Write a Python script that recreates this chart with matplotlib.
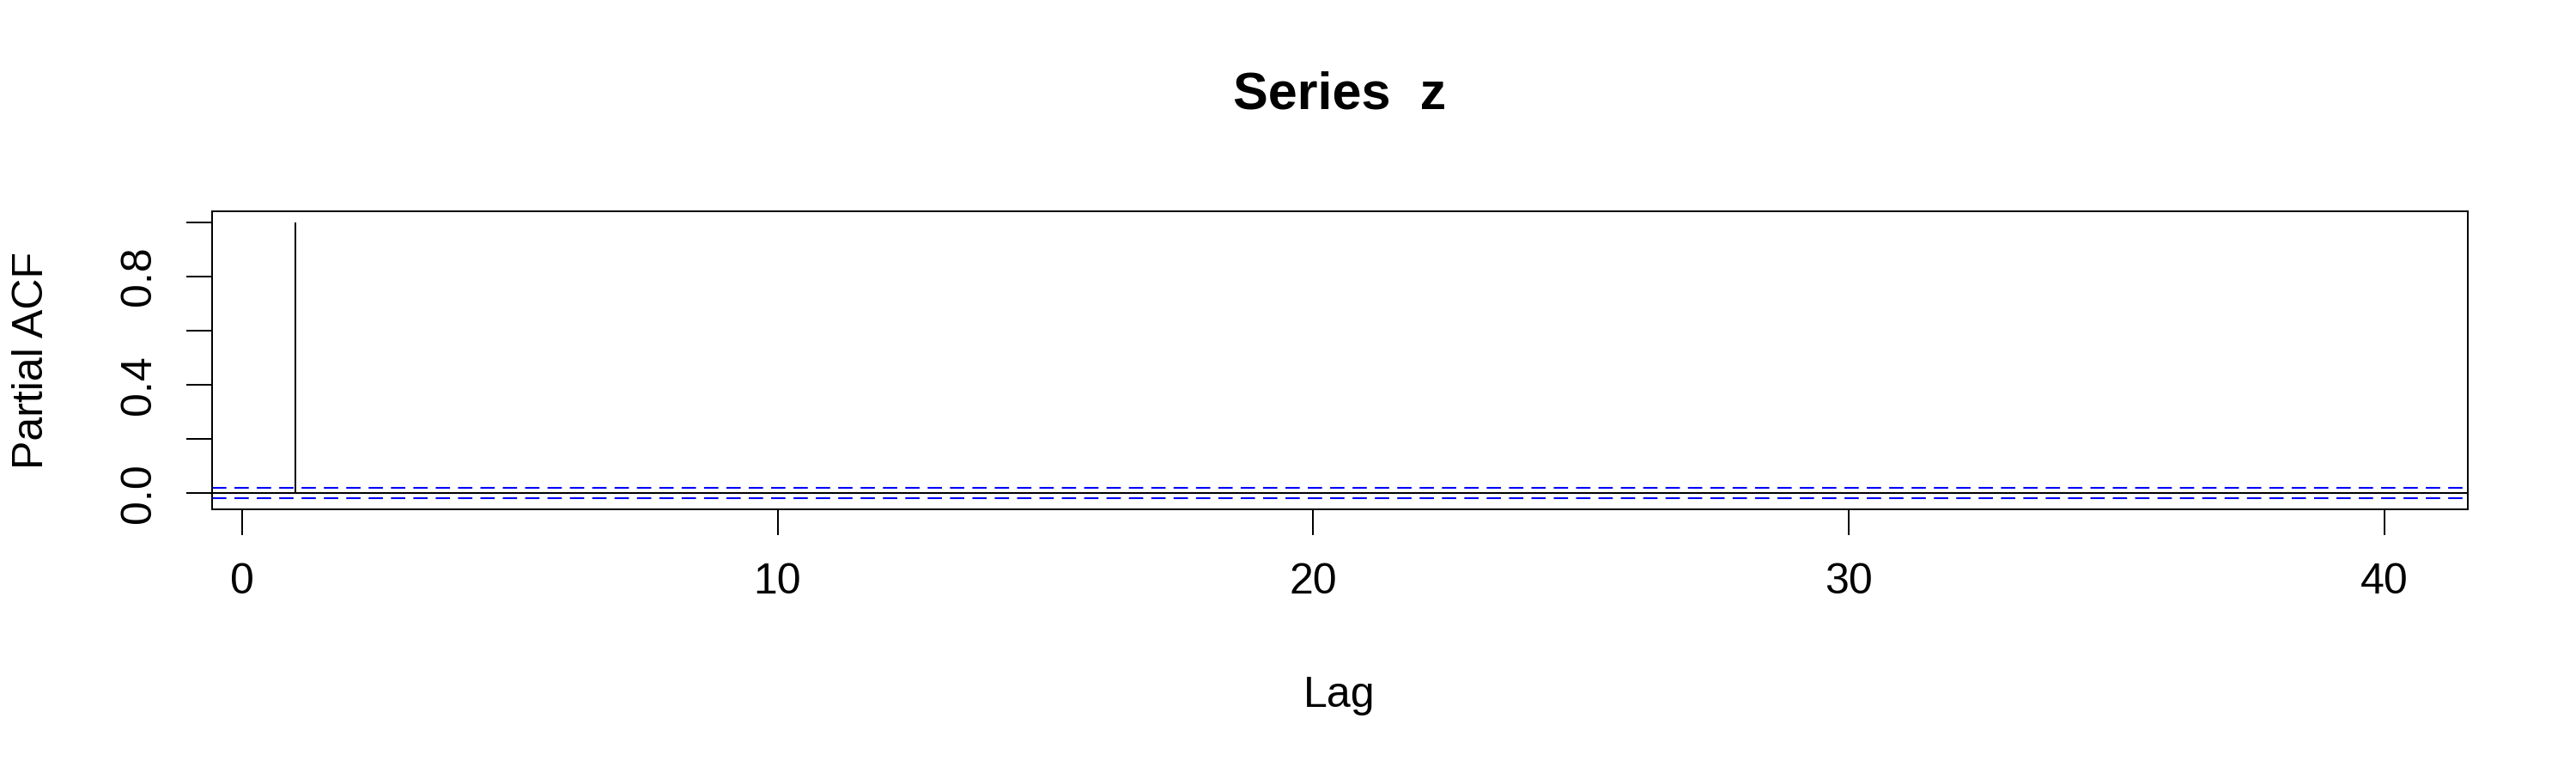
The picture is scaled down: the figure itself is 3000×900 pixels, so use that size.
import numpy as np
import matplotlib
matplotlib.use("Agg")
import matplotlib.pyplot as plt

# partial autocorrelations of z, lags 1..40
lags = np.arange(1, 41)
pacf = [0.9995, 0.004, 0.003, 0.004, 0.003, 0.004, 0.003, 0.004, 0.003, 0.004,
        0.003, 0.004, 0.003, 0.004, 0.003, 0.004, 0.003, 0.004, 0.003, 0.004,
        0.003, 0.004, 0.003, 0.004, 0.003, 0.004, 0.003, 0.004, 0.003, 0.004,
        0.003, 0.004, 0.003, 0.004, 0.003, 0.004, 0.003, 0.004, 0.003, 0.004]
clim = 0.0195  # qnorm(0.975)/sqrt(n)

xticks = [0, 10, 20, 30, 40]
yticks = [0.0, 0.2, 0.4, 0.6, 0.8, 1.0]
ylabels = ["0.0", "", "0.4", "", "0.8", ""]

plt.rcParams['font.family'] = ['Liberation Sans', 'DejaVu Sans']
lw = 1.44

fig = plt.figure(figsize=(30, 9), dpi=100)
ax = fig.add_axes([0.0823, 0.3411, 0.8757, 0.3859])

ax.vlines(lags, 0, pacf, color='black', lw=lw)
ax.axhline(0, color='black', lw=lw)
for c in (clim, -clim):
    ax.axhline(c, color='blue', lw=1.5, linestyle=(0, (8, 4.5)))

ax.set_xlim(-0.56, 41.56)
ax.set_ylim(-0.0603, 1.0407)

for s in ax.spines.values():
    s.set_linewidth(lw)

ax.set_xticks(xticks)
ax.set_xticklabels([str(t) for t in xticks])
ax.set_yticks(yticks)
ax.set_yticklabels(ylabels, rotation=90, va='center')
ax.tick_params(axis='both', direction='out', length=21.6, width=lw,
               labelsize=36, pad=23)

fig.text(0.52, 0.8593, "Series  z", ha='center', va='baseline',
         fontsize=44, fontweight='bold')
fig.text(0.52, 0.0852, "Lag", ha='center', va='baseline', fontsize=36)
fig.text(0.01667, 0.5344, "Partial ACF", ha='center', va='baseline',
         rotation=90, rotation_mode='anchor', fontsize=36)

fig.savefig("out.png", dpi=100)
